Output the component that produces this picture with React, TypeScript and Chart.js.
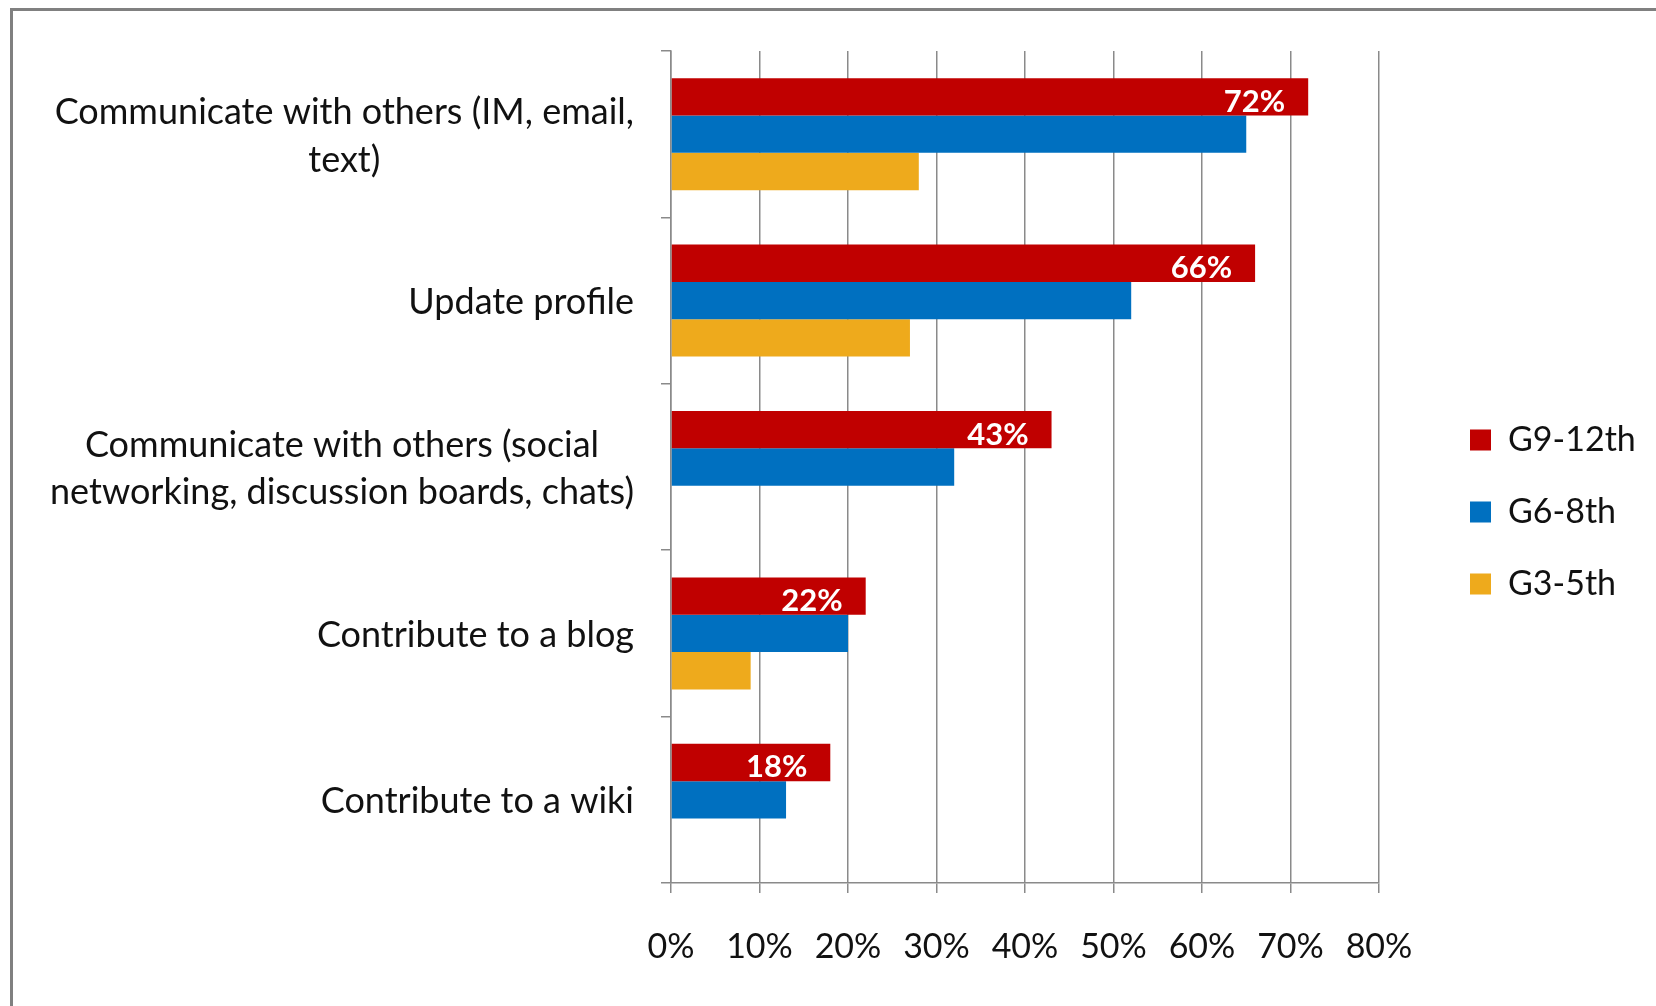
import React, { useEffect, useRef } from "react";
import { Chart, registerables } from "chart.js";

Chart.register(...registerables);

// ---------- data ----------
const categories: (string | string[])[] = [
  ["Communicate with others (IM, email,", "text)"],
  "Update profile",
  ["Communicate with others (social", "networking, discussion boards, chats)"],
  "Contribute to a blog",
  "Contribute to a wiki",
];
const seriesNames = ["G9-12th", "G6-8th", "G3-5th"];
const g9to12 = [72, 66, 43, 22, 18];
const g6to8 = [65, 52, 32, 20, 13];
const g3to5: (number | null)[] = [28, 27, null, 9, null];
const axisMin = 0;
const axisMax = 80;
const axisStep = 10;
const seriesColors = ["#C00000", "#0070C0", "#EEAA1C"];

// ---------- styling ----------
const FONT = "Lato";
const TEXT = "#111111";
const GRID = "#8a8a8a";

const categoryLabelPlugin = {
  id: "categoryLabels",
  afterDraw(chart: any) {
    const ctx = chart.ctx;
    const yScale = chart.scales.y;
    ctx.save();
    ctx.font = `36px ${FONT}`;
    ctx.fillStyle = TEXT;
    ctx.textAlign = "center";
    ctx.textBaseline = "middle";
    const right = chart.chartArea.left - 37;
    const lh = 47.5;
    categories.forEach((lab, i) => {
      const lines = Array.isArray(lab) ? lab : [lab];
      const yc = yScale.getPixelForValue(i) + 2;
      const maxW = Math.max(...lines.map((l) => ctx.measureText(l).width));
      const cx = right - maxW / 2;
      lines.forEach((l, j) => {
        ctx.fillText(l, cx, yc + (j - (lines.length - 1) / 2) * lh);
      });
    });
    ctx.restore();
  },
};

const valueLabelPlugin = {
  id: "valueLabels",
  afterDatasetsDraw(chart: any) {
    const ctx = chart.ctx;
    const meta = chart.getDatasetMeta(0);
    ctx.save();
    ctx.font = `bold 31px ${FONT}`;
    ctx.fillStyle = "#ffffff";
    ctx.textAlign = "right";
    ctx.textBaseline = "middle";
    meta.data.forEach((bar: any, i: number) => {
      ctx.fillText(`${g9to12[i]}%`, bar.x - 23, bar.y + 5);
    });
    ctx.restore();
  },
};

const legendPlacePlugin = {
  id: "legendPlace",
  afterLayout(chart: any) {
    const lg = chart.legend;
    if (!lg) return;
    const w = lg.width;
    const h = lg.height;
    lg.left = 1432;
    lg.right = lg.left + w;
    lg.top = 385;
    lg.bottom = lg.top + h;
  },
};

export default function App() {
  const ref = useRef<HTMLCanvasElement | null>(null);

  useEffect(() => {
    if (!ref.current) return;
    Chart.defaults.font.family = FONT;
    const chart = new Chart(ref.current, {
      type: "bar",
      data: {
        labels: categories as any,
        datasets: [
          { label: seriesNames[0], data: g9to12, backgroundColor: seriesColors[0] },
          { label: seriesNames[1], data: g6to8, backgroundColor: seriesColors[1] },
          { label: seriesNames[2], data: g3to5, backgroundColor: seriesColors[2] },
        ],
      },
      options: {
        indexAxis: "y",
        responsive: false,
        animation: false,
        events: [],
        datasets: {
          bar: { categoryPercentage: 0.673, barPercentage: 1.0, borderWidth: 0 },
        },
        layout: { padding: { top: 51, left: 611, right: 277, bottom: 43 } },
        scales: {
          x: {
            min: axisMin,
            max: axisMax,
            afterFit(scale: any) {
              scale.height = 80;
            },
            ticks: {
              stepSize: axisStep,
              callback: (v: any) => `${v}%`,
              font: { size: 34, family: FONT },
              color: TEXT,
              padding: 34,
            },
            grid: {
              color: GRID,
              lineWidth: 1.5,
              drawTicks: true,
              tickLength: 10,
              tickColor: GRID,
            },
            border: { display: true, color: GRID, width: 1.5 },
          },
          y: {
            afterFit(scale: any) {
              scale.width = 60;
            },
            ticks: { display: false },
            grid: {
              offset: true,
              drawOnChartArea: false,
              drawTicks: true,
              tickLength: 10,
              color: GRID,
              tickColor: GRID,
              lineWidth: 1.5,
            },
            border: { display: true, color: GRID, width: 1.5 },
          },
        },
        plugins: {
          legend: {
            position: "chartArea",
            align: "start",
            labels: {
              boxWidth: 21,
              boxHeight: 21,
              padding: 38,
              color: TEXT,
              font: { size: 34, family: FONT },
            },
          },
          tooltip: { enabled: false },
          title: { display: false },
        },
      },
      plugins: [categoryLabelPlugin, valueLabelPlugin, legendPlacePlugin],
    });
    return () => chart.destroy();
  }, []);

  return (
    <div style={{ position: "fixed", left: 0, top: 0, width: 1656, height: 1006, background: "#fff", overflow: "hidden" }}>
      <div
        style={{
          position: "absolute",
          left: 10,
          top: 8,
          width: 1700,
          height: 1100,
          borderTop: "3px solid #808080",
          borderLeft: "3px solid #808080",
          boxSizing: "border-box",
        }}
      />
      <canvas ref={ref} width={1656} height={1006} style={{ position: "absolute", left: 0, top: 0 }} />
    </div>
  );
}
